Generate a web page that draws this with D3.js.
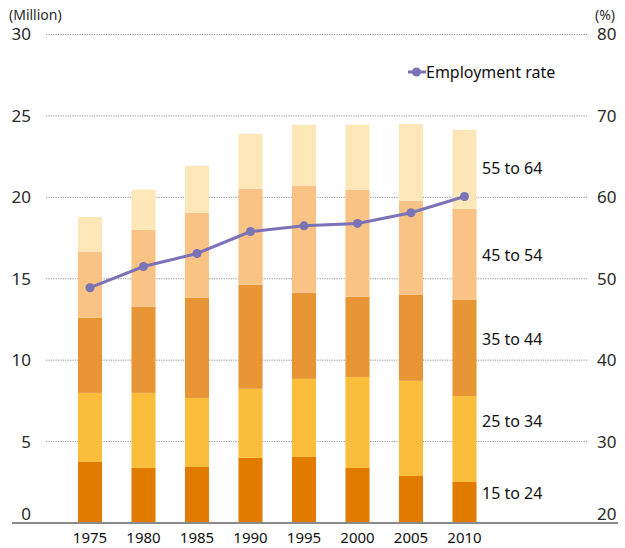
<!DOCTYPE html>
<html><head><meta charset="utf-8">
<script src="https://cdn.jsdelivr.net/npm/d3@7"></script>
<style>
body{margin:0;background:#fff;}
text{font-family:"Noto Sans",sans-serif;}
</style></head>
<body><svg id="c" width="625" height="548"></svg>
<script>
const years = ["1975","1980","1985","1990","1995","2000","2005","2010"];
const groups = ["15 to 24","25 to 34","35 to 44","45 to 54","55 to 64"];
const age15 = [3.75,3.38,3.44,4.00,4.06,3.38,2.89,2.52];
const age25 = [4.24,4.61,4.24,4.24,4.79,5.59,5.84,5.28];
const age35 = [4.61,5.29,6.15,6.39,5.29,4.92,5.28,5.90];
const age45 = [4.06,4.72,5.22,5.90,6.57,6.58,5.78,5.60];
const age55 = [2.14,2.47,2.89,3.37,3.75,3.99,4.71,4.85];
const rate = [48.9,51.5,53.1,55.8,56.5,56.8,58.1,60.1];
const leftTicks = [0,5,10,15,20,25,30];
const rightTicks = [20,30,40,50,60,70,80];
// where each group label sits, in million units on the left scale
const labelAt = [1.8,6.25,11.3,16.45,21.8];
const colors = ["#E07B00","#FABE3C","#E89536","#F8C384","#FDE6B8"];
const lineColor = "#7B73B5";

const svg = d3.select("#c");
const series = [age15,age25,age35,age45,age55];
const rows = years.map((y,i)=>{const o={year:y}; groups.forEach((g,k)=>o[g]=series[k][i]); return o;});
const stack = d3.stack().keys(groups)(rows);

const x = d3.scaleBand().domain(years).range([63.25,491.25]).paddingInner(0.55).paddingOuter(0.275);
const yL = d3.scaleLinear().domain([0,30]).range([523,34.5]);
const yR = d3.scaleLinear().domain([20,80]).range([523,34.5]);

// gridlines
svg.append("g").selectAll("line").data(leftTicks.filter(d=>d>0)).join("line")
  .attr("x1",46).attr("x2",588).attr("y1",d=>yL(d)).attr("y2",d=>yL(d))
  .attr("stroke","#909090").attr("stroke-width",1).attr("stroke-dasharray","1.2,1.2");

// bars
svg.append("g").selectAll("g").data(stack).join("g").attr("fill",(d,i)=>colors[i])
  .selectAll("rect").data(d=>d).join("rect")
  .attr("x",d=>x(d.data.year)).attr("width",x.bandwidth())
  .attr("y",d=>yL(d[1])).attr("height",d=>yL(d[0])-yL(d[1]));

// baseline
svg.append("line").attr("x1",12).attr("x2",618).attr("y1",yL(0)).attr("y2",yL(0))
  .attr("stroke","#8a8a8a").attr("stroke-width",2);

// left axis
const gl = svg.append("g").attr("transform","translate(31,0)")
  .call(d3.axisLeft(yL).tickValues(leftTicks).tickSize(0).tickPadding(0));
gl.select(".domain").remove();
gl.selectAll("text").attr("font-size",17).attr("fill","#2a2a2a").attr("font-family","Noto Sans")
  .attr("dy",d=>d===0?"-0.18em":"0.32em");
// right axis
const gr = svg.append("g").attr("transform","translate(597,0)")
  .call(d3.axisRight(yR).tickValues(rightTicks).tickSize(0).tickPadding(0));
gr.select(".domain").remove();
gr.selectAll("text").attr("font-size",17).attr("fill","#2a2a2a").attr("font-family","Noto Sans")
  .attr("dy",d=>d===20?"-0.18em":"0.32em");
// bottom axis
const gb = svg.append("g").attr("transform","translate(0,523)")
  .call(d3.axisBottom(x).tickSize(0).tickPadding(9));
gb.select(".domain").remove();
gb.selectAll("text").attr("font-size",15).attr("fill","#111").attr("font-family","Noto Sans");

// units
svg.append("text").attr("x",9).attr("y",20).attr("font-size",14).attr("fill","#2a2a2a").text("(Million)");
svg.append("text").attr("x",615).attr("y",20).attr("text-anchor","end").attr("font-size",14).attr("fill","#2a2a2a").text("(%)");

// line
const cx = d=>x(d)+x.bandwidth()/2;
svg.append("path").datum(rate).attr("fill","none").attr("stroke",lineColor).attr("stroke-width",3)
  .attr("d",d3.line().x((d,i)=>cx(years[i])).y(d=>yR(d)));
svg.append("g").selectAll("circle").data(rate).join("circle")
  .attr("cx",(d,i)=>cx(years[i])).attr("cy",d=>yR(d)).attr("r",4.5).attr("fill",lineColor);

// legend
svg.append("line").attr("x1",408).attr("x2",426).attr("y1",72).attr("y2",72).attr("stroke",lineColor).attr("stroke-width",3);
svg.append("circle").attr("cx",416.5).attr("cy",72).attr("r",4.5).attr("fill",lineColor);
svg.append("text").attr("x",426).attr("y",72).attr("dy","0.35em").attr("font-size",16).attr("fill","#111").text("Employment rate");

// series labels at right of last bar
svg.append("g").selectAll("text").data(groups).join("text")
  .attr("x",482)
  .attr("y",(d,i)=>yL(labelAt[i]))
  .attr("dy","0.35em").attr("font-size",16).attr("fill","#111")
  .text(d=>d);
</script></body></html>
